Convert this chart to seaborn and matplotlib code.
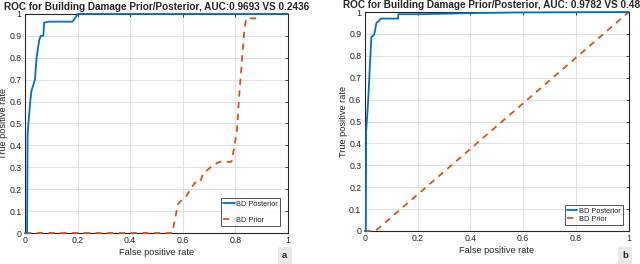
import numpy as np
import pandas as pd
import matplotlib
matplotlib.use("Agg")
import matplotlib.pyplot as plt
import seaborn as sns

# ROC points
# panel a
a_post_fpr = [0, 0.008, 0.010, 0.013, 0.020, 0.025, 0.038, 0.044, 0.054, 0.060, 0.070, 0.073, 0.089, 0.180, 0.190, 0.200, 1.0]
a_post_tpr = [0, 0.0, 0.45, 0.50, 0.60, 0.65, 0.70, 0.80, 0.88, 0.90, 0.90, 0.96, 0.965, 0.965, 0.98, 1.0, 1.0]
a_prior_fpr = [0, 0.560, 0.582, 0.614, 0.646, 0.665, 0.677, 0.715, 0.740, 0.785, 0.797, 0.806, 0.814, 0.825, 0.835, 0.842, 0.880, 0.885, 1.0]
a_prior_tpr = [0, 0.0, 0.134, 0.17, 0.23, 0.23, 0.27, 0.31, 0.325, 0.325, 0.40, 0.47, 0.62, 0.79, 0.94, 0.98, 0.98, 1.0, 1.0]
# panel b
b_post_fpr = [0, 0.004, 0.005, 0.006, 0.013, 0.019, 0.025, 0.035, 0.038, 0.044, 0.054, 0.060, 0.126, 0.127, 0.210, 0.400, 0.586, 1.0]
b_post_tpr = [0, 0.0, 0.45, 0.47, 0.60, 0.75, 0.885, 0.895, 0.91, 0.95, 0.96, 0.97, 0.97, 0.99, 0.99, 0.995, 0.998, 1.0]
b_prior_fpr = [0, 0.04, 1.0]
b_prior_tpr = [0, 0.0, 1.0]

titles = ["ROC for Building Damage Prior/Posterior, AUC:0.9693 VS 0.2436",
          "ROC for Building Damage Prior/Posterior, AUC: 0.9782 VS 0.4841"]
panel_tags = ["a", "b"]
x_ticks = [0, 0.2, 0.4, 0.6, 0.8, 1]
y_ticks = [0, 0.1, 0.2, 0.3, 0.4, 0.5, 0.6, 0.7, 0.8, 0.9, 1]

sns.set_style("white")
plt.rcParams['font.family'] = ['Liberation Sans', 'DejaVu Sans']

blue = "#0072BD"
orange = "#D95319"
dark = "#262626"

fig = plt.figure(figsize=(6.4, 2.64), dpi=100)
ax_a = fig.add_axes([0.039, 0.1174, 0.411, 0.8296])
ax_b = fig.add_axes([0.570, 0.1250, 0.4125, 0.8295])

panels = [
    (ax_a, a_post_fpr, a_post_tpr, a_prior_fpr, a_prior_tpr, (0.97, 0.032), 1.2, 1.6),
    (ax_b, b_post_fpr, b_post_tpr, b_prior_fpr, b_prior_tpr, (0.977, 0.027), 0.15, 1.4),
]

def fmt(v):
    return "0" if v == 0 else ("1" if v == 1 else f"{v:g}")

for i, (ax, pf, pt, rf, rt, anchor, spacing, hlen) in enumerate(panels):
    post = pd.DataFrame({"fpr": pf, "tpr": pt})
    prior = pd.DataFrame({"fpr": rf, "tpr": rt})
    sns.lineplot(data=post, x="fpr", y="tpr", ax=ax, color=blue, lw=1.3,
                 sort=False, estimator=None, label="BD Posterior", clip_on=False, zorder=5)
    sns.lineplot(data=prior, x="fpr", y="tpr", ax=ax, color=orange, lw=1.3,
                 sort=False, estimator=None, label="BD Prior", clip_on=False, zorder=4)
    ax.lines[-1].set_dashes((3.5, 3))
    ax.set_xlim(0, 1)
    ax.set_ylim(0, 1)
    ax.set_xticks(x_ticks)
    ax.set_yticks(y_ticks)
    ax.set_xticklabels([fmt(v) for v in x_ticks])
    ax.set_yticklabels([fmt(v) for v in y_ticks])
    ax.grid(True, color="#dcdcdc", lw=0.6)
    ax.set_axisbelow(True)
    ax.tick_params(direction="in", length=2.5, width=0.6, labelsize=6.3,
                   colors=dark, top=True, right=True, pad=2.5)
    for s in ax.spines.values():
        s.set_color(dark)
        s.set_linewidth(0.8)
    ax.set_xlabel("False positive rate", fontsize=6.6, color=dark, labelpad=2)
    ax.set_ylabel("True positive rate", fontsize=6.6, color=dark, labelpad=1)
    ax.set_title(titles[i], fontsize=7.2, fontweight="bold", pad=3)
    leg = ax.legend(loc="lower right", bbox_to_anchor=anchor, borderaxespad=0,
                    fontsize=5.3, frameon=True, fancybox=False, handlelength=hlen,
                    handletextpad=0.2, labelspacing=spacing, borderpad=0.3)
    leg.get_frame().set_edgecolor(dark)
    leg.get_frame().set_linewidth(0.7)

fig.text(0.445, 0.032, panel_tags[0], fontsize=6.8, fontweight="bold", ha="center", va="center",
         bbox=dict(boxstyle="square,pad=0.45", fc="#e8e8e8", ec="none"))
fig.text(0.977, 0.032, panel_tags[1], fontsize=6.8, fontweight="bold", ha="center", va="center",
         bbox=dict(boxstyle="square,pad=0.45", fc="#e8e8e8", ec="none"))

fig.savefig("out.png", dpi=100)
